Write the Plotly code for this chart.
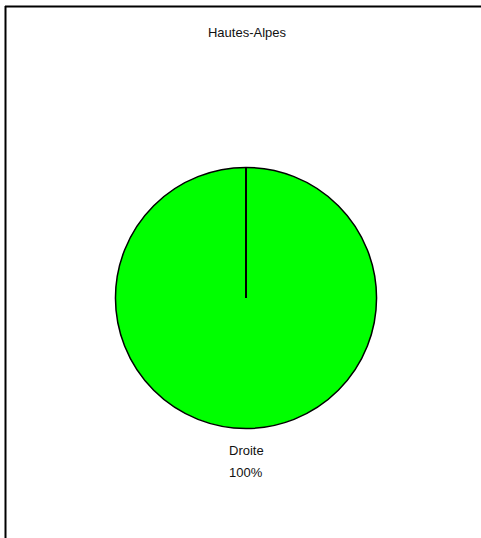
import plotly.graph_objects as go

# data
departement = "Hautes-Alpes"
tendances = ["Droite"]
parts = [100]
couleurs = ["#00ff00"]

W, H = 481, 538
police = "Liberation Sans, Arial"

dom_x = [115.5 / W, 376.5 / W]
dom_y = [1 - 428.5 / H, 1 - 167.5 / H]

fig = go.Figure(go.Pie(
    labels=tendances,
    values=parts,
    marker=dict(colors=couleurs, line=dict(color="black", width=1.5)),
    textinfo="none",
    hoverinfo="label+percent",
    sort=False,
    direction="clockwise",
    rotation=0,
    showlegend=False,
    domain=dict(x=dom_x, y=dom_y),
))

cx = sum(dom_x) / 2
cy = sum(dom_y) / 2

total = sum(parts)
fig.add_annotation(text=tendances[0], x=cx, y=1 - 450.5 / H, xref="paper", yref="paper",
                   yanchor="middle", showarrow=False, font=dict(family=police, size=13, color="#111"))
fig.add_annotation(text=f"{parts[0] / total:.0%}", x=cx, y=1 - 472 / H, xref="paper", yref="paper",
                   yanchor="middle", showarrow=False, font=dict(family=police, size=13, color="#111"))

fig.update_layout(
    width=W, height=H,
    margin=dict(l=0, r=0, t=0, b=0),
    paper_bgcolor="white",
    title=dict(text=departement, x=247 / W, xanchor="center", y=1 - 32 / H, yanchor="middle",
               font=dict(family=police, size=13, color="#111")),
    shapes=[
        # frame (left + top)
        dict(type="line", xref="paper", yref="paper", x0=5.5 / W, x1=5.5 / W, y0=0, y1=1 - 6 / H,
             line=dict(color="black", width=2)),
        dict(type="line", xref="paper", yref="paper", x0=5 / W, x1=1, y0=1 - 6.5 / H, y1=1 - 6.5 / H,
             line=dict(color="black", width=2)),
        # slice boundary from centre to top
        dict(type="line", xref="paper", yref="paper", x0=cx, x1=cx, y0=cy, y1=dom_y[1],
             line=dict(color="black", width=2)),
    ],
)

fig.write_html("out.html", config={"displayModeBar": False},
               post_script="document.body.style.margin='0';")
